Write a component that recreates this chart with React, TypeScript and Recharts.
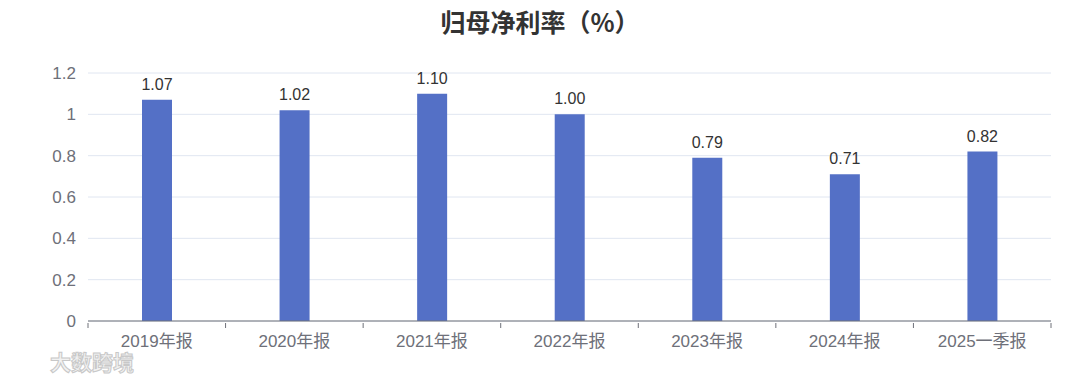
import { BarChart, Bar, XAxis, YAxis, CartesianGrid, LabelList } from 'recharts'

const categories = ['2019年报', '2020年报', '2021年报', '2022年报', '2023年报', '2024年报', '2025一季报']
const netMargin = [1.07, 1.02, 1.1, 1.0, 0.79, 0.71, 0.82]
const yTicks = [0, 0.2, 0.4, 0.6, 0.8, 1, 1.2]

const data = categories.map((name, i) => ({ name, value: netMargin[i] }))

const FONT = '"Liberation Sans", "Noto Sans CJK SC", sans-serif'
const AXIS = '#6e7079'

// category label plus tick marks on the band edges (echarts style)
function BandTick(props: any) {
  const { x, y, payload, index } = props
  const half = payload.offset || 0
  const last = index === categories.length - 1
  return (
    <g>
      <line x1={x - half} x2={x - half} y1={y} y2={y + 5} stroke={AXIS} />
      {last && <line x1={x + half} x2={x + half} y1={y} y2={y + 5} stroke={AXIS} />}
      <text x={x} y={y + 12} dy="0.71em" textAnchor="middle" fill={AXIS} fontSize={17} fontFamily={FONT}>
        {payload.value}
      </text>
    </g>
  )
}

export default function App() {
  return (
    <div style={{ position: 'relative', width: 1080, height: 379, background: '#fff', fontFamily: FONT }}>
      <style>{'body{margin:0}'}</style>
      <div
        style={{
          position: 'absolute',
          top: 3,
          left: 0,
          width: 1080,
          textAlign: 'center',
          fontSize: 25,
          fontWeight: 'bold',
          color: '#333',
          fontFamily: '"Noto Sans CJK SC", sans-serif',
        }}
      >
        归母净利率（%）
      </div>
      <BarChart width={1080} height={379} data={data} margin={{ top: 73, right: 29, left: 0, bottom: 18 }}>
        <CartesianGrid vertical={false} stroke="#e0e6f1" />
        <YAxis
          width={88}
          domain={[0, 1.2]}
          ticks={yTicks}
          axisLine={false}
          tickLine={false}
          tickSize={0}
          tickMargin={12}
          tick={{ fill: AXIS, fontSize: 17, fontFamily: FONT }}
        />
        <XAxis
          dataKey="name"
          height={40}
          interval={0}
          axisLine={{ stroke: AXIS }}
          tickLine={false}
          tickSize={0}
          tick={<BandTick />}
        />
        <Bar dataKey="value" fill="#5470c6" barSize={30} isAnimationActive={false}>
          <LabelList
            dataKey="value"
            position="top"
            offset={10}
            formatter={(v: any) => Number(v).toFixed(2)}
            style={{ fill: '#333', fontSize: 16, fontFamily: FONT }}
          />
        </Bar>
      </BarChart>
      <div
        style={{
          position: 'absolute',
          left: 50,
          top: 346,
          fontSize: 21,
          fontWeight: 'bold',
          color: '#f2f2f2',
          WebkitTextStroke: '1px #c8c8c8',
          fontFamily: '"Noto Sans CJK SC", sans-serif',
        }}
      >
        大数跨境
      </div>
    </div>
  )
}
